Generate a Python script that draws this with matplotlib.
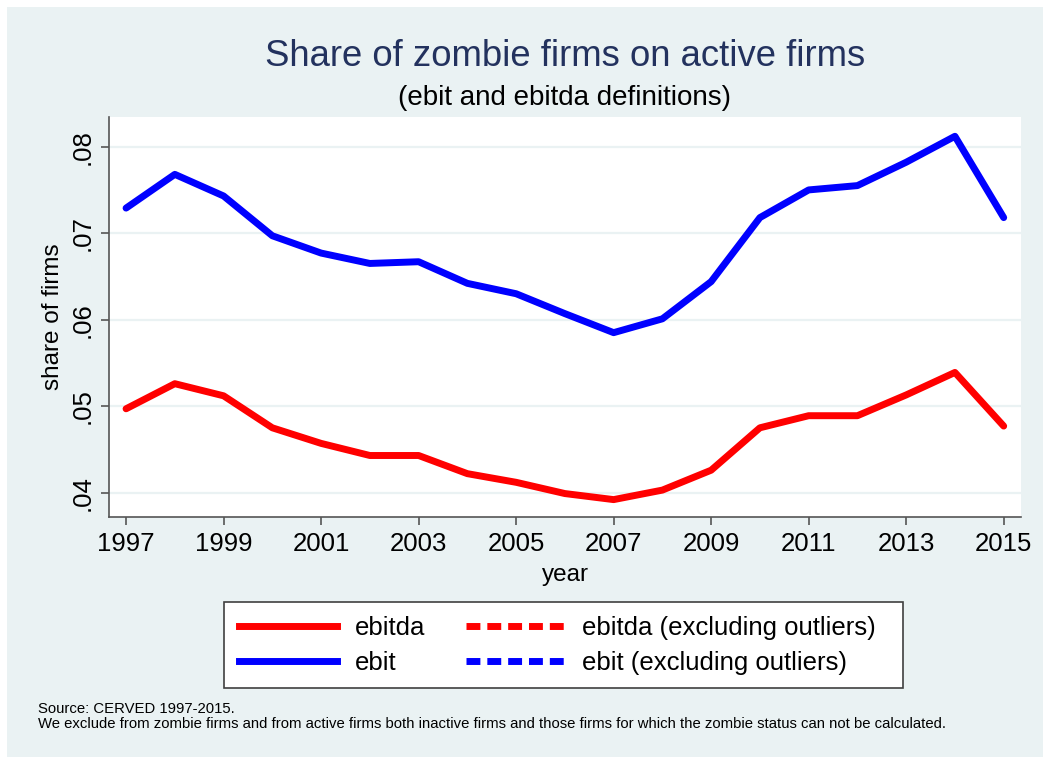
import matplotlib
matplotlib.use("Agg")
import matplotlib.pyplot as plt
from matplotlib.lines import Line2D
from matplotlib.patches import Rectangle

plt.rcParams['font.family'] = ['Liberation Sans', 'DejaVu Sans']

# share of zombie firms on active firms, by year
years = list(range(1997, 2016))
ebitda = [0.0497, 0.0526, 0.0512, 0.0475, 0.0457, 0.0443, 0.0443, 0.0422, 0.0412, 0.0399,
          0.0392, 0.0403, 0.0426, 0.0475, 0.0489, 0.0489, 0.0513, 0.0539, 0.0477]
ebit = [0.0729, 0.0768, 0.0743, 0.0697, 0.0677, 0.0665, 0.0667, 0.0642, 0.0630, 0.0607,
        0.0585, 0.0601, 0.0644, 0.0718, 0.0750, 0.0755, 0.0782, 0.0812, 0.0718]

x_ticks = list(range(1997, 2016, 2))
y_ticks = [0.04, 0.05, 0.06, 0.07, 0.08]
y_ticklabels = ['.04', '.05', '.06', '.07', '.08']

legend_labels = ['ebitda', 'ebit', 'ebitda (excluding outliers)', 'ebit (excluding outliers)']

BG = '#eaf2f3'
AXCOL = '#555555'

W, H = 1045, 760
fig = plt.figure(figsize=(W / 100, H / 100), dpi=100)
fig.patch.set_facecolor('white')
fig.patches.append(Rectangle((7 / W, 3 / H), 1036 / W, 750 / H, transform=fig.transFigure,
                             facecolor=BG, edgecolor='none', zorder=-10))

ax = fig.add_axes([109 / W, (H - 517) / H, 912 / W, 400 / H])
ax.set_facecolor('white')

ax.plot(years, ebitda, color='#ff0000', lw=5, solid_capstyle='round', solid_joinstyle='round', zorder=3)
ax.plot(years, ebit, color='#0000ff', lw=5, solid_capstyle='round', solid_joinstyle='round', zorder=3)

ax.set_xlim(1996.65, 2015.355)
ax.set_ylim(0.03719, 0.08343)
ax.set_xticks(x_ticks)
ax.set_xticklabels([str(y) for y in x_ticks])
ax.set_yticks(y_ticks)
ax.set_yticklabels(y_ticklabels, rotation=90, va='center')

ax.grid(axis='y', color=BG, lw=1.6, zorder=0)
ax.set_axisbelow(True)
for side in ['top', 'right']:
    ax.spines[side].set_visible(False)
for side in ['left', 'bottom']:
    ax.spines[side].set_color(AXCOL)
    ax.spines[side].set_linewidth(1.2)
ax.tick_params(axis='both', direction='out', length=6, width=1.2, color=AXCOL,
               labelsize=18.5, labelcolor='black')
ax.tick_params(axis='x', pad=5)
ax.tick_params(axis='y', pad=4)

ax.set_ylabel('share of firms', fontsize=17.5, va='center')
ax.yaxis.set_label_coords(-0.061, 0.5)
ax.set_xlabel('year', fontsize=17.5, va='center')
ax.xaxis.set_label_coords(0.5, -0.145)

fig.text(565 / W, 1 - 57 / H, 'Share of zombie firms on active firms', fontsize=26.3,
         color='#23325e', ha='center', va='center')
fig.text(565 / W, 1 - 98 / H, '(ebit and ebitda definitions)', fontsize=20,
         color='black', ha='center', va='center')

# legend with dashed entries for the outlier-trimmed series, boxed separately
handles = [
    Line2D([], [], color='#ff0000', lw=5),
    Line2D([], [], color='#0000ff', lw=5),
    Line2D([], [], color='#ff0000', lw=5, dashes=(2.0, 1.0)),
    Line2D([], [], color='#0000ff', lw=5, dashes=(2.0, 1.0)),
]
fig.patches.append(Rectangle((224 / W, 1 - 688 / H), 679 / W, 86 / H, transform=fig.transFigure,
                             facecolor='white', edgecolor='#404040', lw=1.2, zorder=1))
leg = fig.legend(handles, legend_labels, ncol=2, loc='center',
                 bbox_to_anchor=(557.5 / W, 1 - 645.5 / H), fontsize=18.5,
                 handlelength=3.8, handletextpad=0.7, columnspacing=1.6,
                 labelspacing=0.45, borderpad=0.2, frameon=False)
leg.set_zorder(2)

fig.text(38 / W, 1 - 709 / H, 'Source: CERVED 1997-2015.', fontsize=10.7, ha='left', va='center')
fig.text(38 / W, 1 - 724 / H,
         'We exclude from zombie firms and from active firms both inactive firms and those firms '
         'for which the zombie status can not be calculated.', fontsize=10.7, ha='left', va='center')

fig.savefig('out.png', dpi=100, facecolor=fig.get_facecolor())
